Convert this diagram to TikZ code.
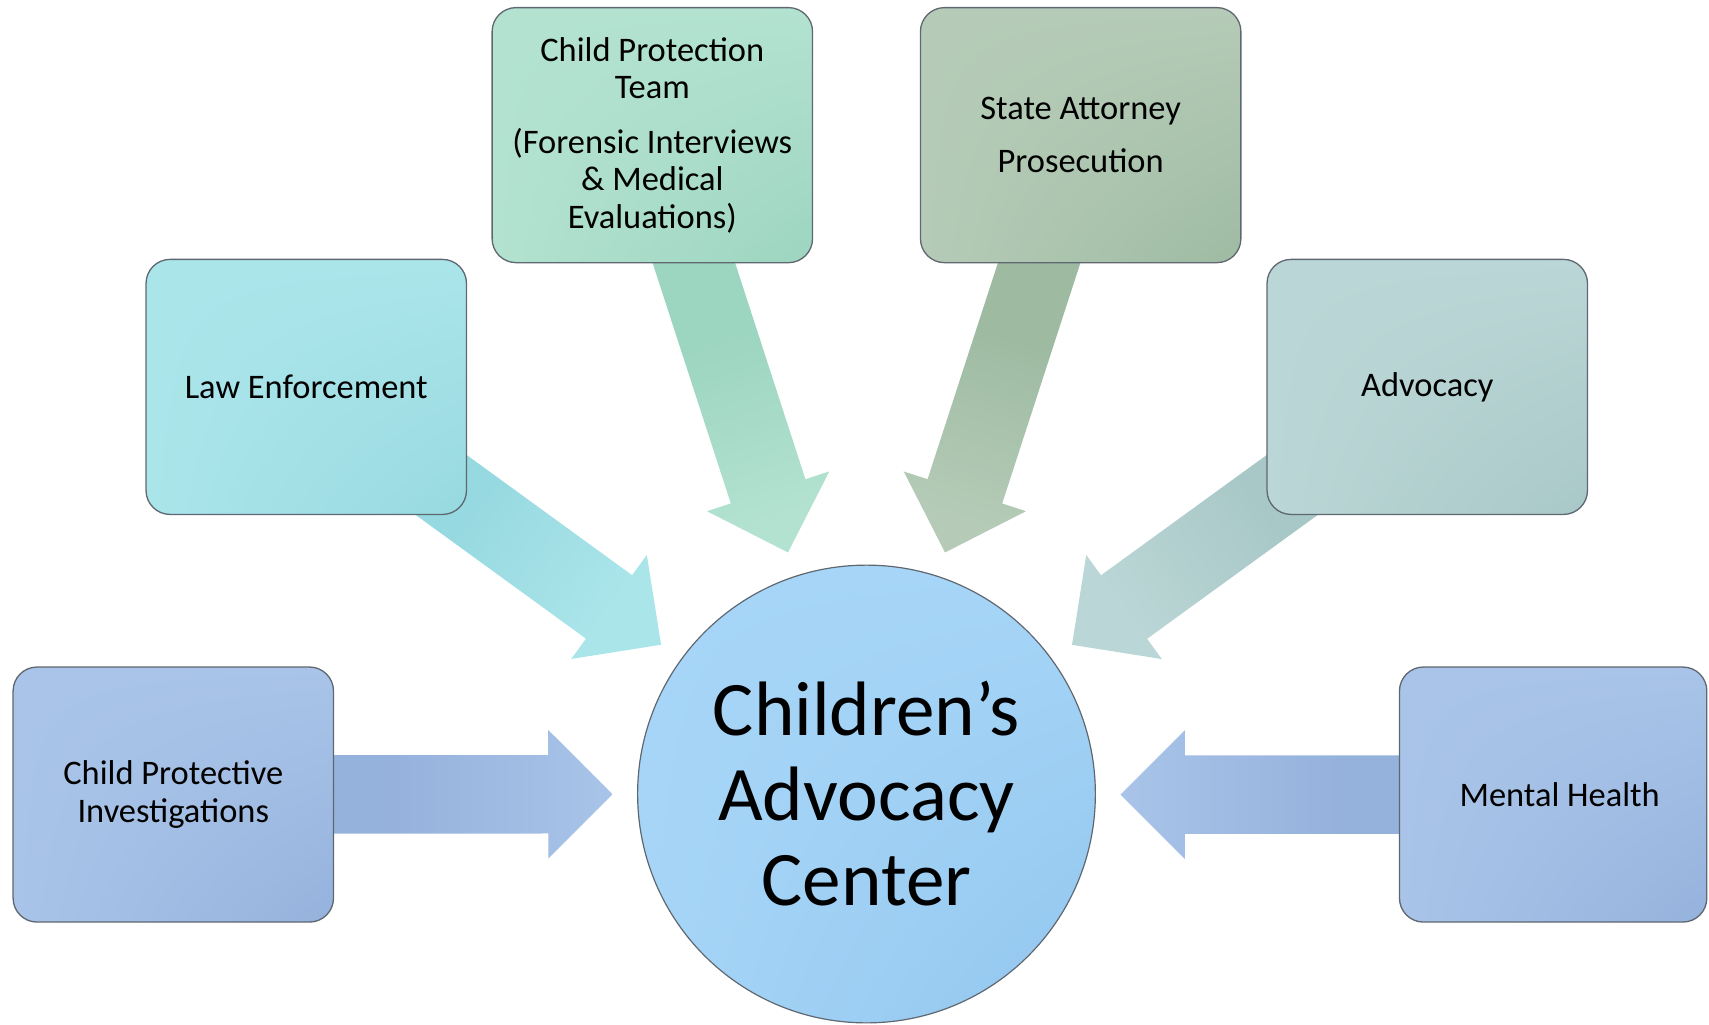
\documentclass[tikz,border=0pt]{standalone}
\usepackage{fontspec}
\setmainfont{Carlito}
\usetikzlibrary{calc,shadings}
\pgfdeclarelayer{bg}
\pgfsetlayers{bg,main}
\definecolor{cpiL}{HTML}{A9C4E8}
\definecolor{cpiD}{HTML}{95B2DD}
\definecolor{leL}{HTML}{AAE5EA}
\definecolor{leD}{HTML}{97D9E0}
\definecolor{cptL}{HTML}{B3E2D0}
\definecolor{cptD}{HTML}{9CD5C0}
\definecolor{saL}{HTML}{B5CBB7}
\definecolor{saD}{HTML}{9EBBA2}
\definecolor{advL}{HTML}{BBD6D6}
\definecolor{advD}{HTML}{A8C8C7}
\definecolor{cacL}{HTML}{A6D5F7}
\definecolor{cacD}{HTML}{92C6EE}
\definecolor{edgegray}{HTML}{5F6770}
\tikzset{
  card/.style n args={2}{rectangle, rounded corners=22pt, draw=edgegray, line width=1.2pt,
    minimum width=294pt, minimum height=234pt, inner sep=0pt, align=center,
    font=\fontsize{31.6}{34.5}\selectfont,
    upper left=#1, upper right=#1, lower left=#1, lower right=#2},
  hub/.style={circle, draw=edgegray, line width=1.1pt, minimum size=420pt, inner sep=0pt,
    align=center, font=\fontsize{70.8}{78}\selectfont,
    upper left=cacL, upper right=cacL, lower left=cacL, lower right=cacD},
}
% #1 start node, #2 tip coordinate, #3 shading angle, #4 dark, #5 light, #6 base name
\newcommand{\flowarrow}[6]{%
  \coordinate (#6) at ($(#2)!59pt!(#1.center)$);
  \path[top color=#5, bottom color=#4, middle color=#4, shading angle=#3]
    ($(#1.center)!36pt!90:(#2)$) -- ($(#6)!36pt!90:(#2)$) -- ($(#6)!59pt!90:(#2)$) -- (#2)
    -- ($(#6)!59pt!-90:(#2)$) -- ($(#6)!36pt!-90:(#2)$) -- ($(#1.center)!36pt!-90:(#2)$) -- cycle;
}
\begin{document}
\begin{tikzpicture}[x=1pt,y=1pt]
\useasboundingbox (0,0) rectangle (1568,940);
\node[hub] (cac) at (795,211.5) {Children’s\\Advocacy\\Center};
\node[card={cpiL}{cpiD}] (cpi) at (159,211) {Child Protective\\Investigations};
\node[card={cpiL}{cpiD}, minimum width=282pt] (mh) at (1425,211) {\hspace*{12pt}Mental Health};
\node[card={leL}{leD}] (le) at (281,585) {Law Enforcement};
\node[card={advL}{advD}] (adv) at (1309.5,585) {Advocacy};
\node[card={cptL}{cptD}] (cpt) at (598.5,816) {Child Protection\\Team\\[15.5pt](Forensic Interviews\\\& Medical\\Evaluations)};
\node[card={saL}{saD}] (sa) at (991.5,816) {State Attorney\\[14.5pt]Prosecution};
\coordinate (tcpi) at ($(cac.center)!233pt!(cpi.center)$);
\coordinate (tmh) at (1028,211);
\coordinate (tle) at ($(cac.center)!233pt!(le.center)$);
\coordinate (tadv) at ($(cac.center)!233pt!(adv.center)$);
\coordinate (tcpt) at ($(cac.center)!233pt!(cpt.center)$);
\coordinate (tsa) at ($(cac.center)!233pt!(sa.center)$);
\begin{pgfonlayer}{bg}
\flowarrow{cpi}{tcpi}{-90}{cpiD}{cpiL}{bcpi}
\flowarrow{mh}{tmh}{90}{cpiD}{cpiL}{bmh}
\flowarrow{le}{tle}{-126}{leD}{leL}{ble}
\flowarrow{adv}{tadv}{126}{advD}{advL}{badv}
\flowarrow{cpt}{tcpt}{-162}{cptD}{cptL}{bcpt}
\flowarrow{sa}{tsa}{162}{saD}{saL}{bsa}
\end{pgfonlayer}
\end{tikzpicture}
\end{document}
